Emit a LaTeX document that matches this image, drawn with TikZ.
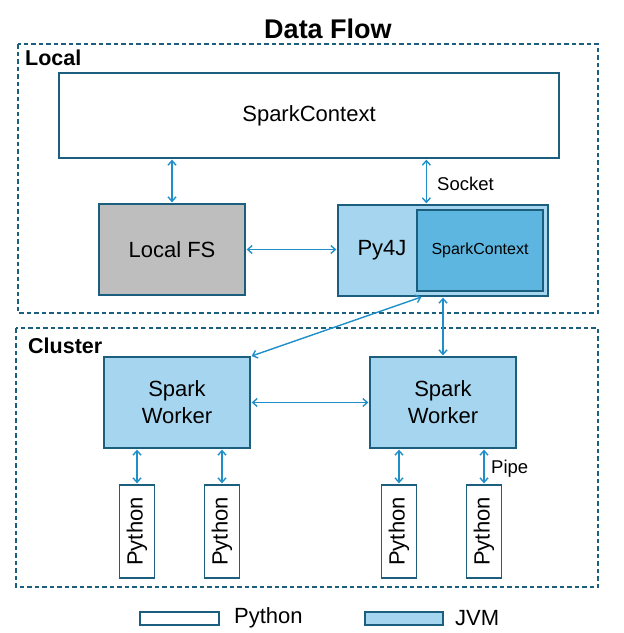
\documentclass[tikz,border=0pt]{standalone}
\usepackage{fontspec}
\setmainfont{Liberation Sans}
\usetikzlibrary{arrows.meta,calc}
\definecolor{bord}{HTML}{1C5E7E}
\definecolor{arrc}{HTML}{1E8FC8}
\definecolor{jvm}{HTML}{A6D6EF}
\definecolor{jvmd}{HTML}{5DB6E0}
\definecolor{fsgray}{HTML}{BEBEBE}
\tikzset{
  box/.style={draw=bord, line width=1.3pt, minimum width=#1, inner sep=0pt, align=center, font=\fontsize{22}{27}\selectfont},
  pybox/.style={draw=bord, line width=1.3pt, fill=white, minimum width=35pt, minimum height=93pt, inner sep=0pt},
  region/.style={draw=bord, line width=1.2pt, dash pattern=on 4.5pt off 3pt},
  arr/.style={draw=arrc, line width=1.4pt, shorten <=1pt, shorten >=1pt, {Straight Barb[length=4.5pt,width=8pt]}-{Straight Barb[length=4.5pt,width=8pt]}},
  lbl/.style={font=\fontsize{18.5}{22}\selectfont, anchor=west, inner sep=0pt},
  hdr/.style={font=\bfseries\fontsize{21.5}{26}\selectfont, anchor=west, inner sep=0pt}
}
\begin{document}
\begin{tikzpicture}[x=1pt,y=-1pt]
\useasboundingbox (0,0) rectangle (624,633);
% title
\node[font=\bfseries\fontsize{27}{32}\selectfont, inner sep=0pt] (title) at (328,29) {Data Flow};
% regions
\draw[region] (18,44) rectangle (598,313);
\node[hdr] (locallbl) at (25,58) {Local};
\draw[region] (16,328) rectangle (598,587);
\node[hdr] (clusterlbl) at (28,346) {Cluster};
% local nodes
\node[box=500pt, minimum height=85pt, fill=white] (sc) at (309,115.5) {SparkContext};
\node[box=146pt, minimum height=91pt, fill=fsgray] (lfs) at (172,249.5) {Local FS};
\node[box=210pt, minimum height=91pt, fill=jvm] (py4j) at (443,250.5) {};
\node[box=126pt, minimum height=81pt, fill=jvmd, font=\fontsize{16}{19}\selectfont] (inner) at (480,250.5) {SparkContext};
\node[font=\fontsize{22}{27}\selectfont, inner sep=0pt] (py4jlbl) at (382,250) {Py4J};
% workers
\node[box=146pt, minimum height=91pt, fill=jvm] (w1) at (177,402.5) {Spark\\Worker};
\node[box=146pt, minimum height=91pt, fill=jvm] (w2) at (443,402.5) {Spark\\Worker};
% python processes
\foreach \n/\x in {p1/137, p2/222, p3/399, p4/484}{
  \node[pybox] (\n) at (\x,531.5) {};
  \node[rotate=90, font=\fontsize{22}{27}\selectfont, inner sep=0pt] (\n t) at (\n) {Python};
}
% connectors
\draw[arr] (lfs.north |- sc.south) -- (lfs.north);
\coordinate (sockx) at ([xshift=10pt]inner.north west);
\draw[arr] (sockx |- sc.south) -- (sockx |- py4j.north);
\node[lbl] (socket) at (437,184) {Socket};
\draw[arr] (lfs.east) -- (py4j.west |- lfs.east);
\coordinate (diagx) at ([xshift=6pt]inner.south west);
\draw[arr] (diagx |- py4j.south) -- (w1.north east);
\draw[arr] (py4j.south) -- (w2.north);
\draw[arr] (w1.east) -- (w2.west);
\draw[arr] (w1.south -| p1.north) -- (p1.north);
\draw[arr] (w1.south -| p2.north) -- (p2.north);
\draw[arr] (w2.south -| p3.north) -- (p3.north);
\draw[arr] (w2.south -| p4.north) -- (p4.north);
\node[lbl] (pipe) at (491,469) {Pipe};
% legend
\node[draw=bord, line width=1.3pt, fill=white, minimum width=79pt, minimum height=13pt, inner sep=0pt] (legpy) at (179.5,618.5) {};
\node[font=\fontsize{22}{27}\selectfont, anchor=west, inner sep=0pt] (legpyt) at (234,618) {Python};
\node[draw=bord, line width=1.3pt, fill=jvm, minimum width=78pt, minimum height=13pt, inner sep=0pt] (legjvm) at (404,618.5) {};
\node[font=\fontsize{22}{27}\selectfont, anchor=west, inner sep=0pt] (legjvmt) at (455,618) {JVM};
\end{tikzpicture}
\end{document}
